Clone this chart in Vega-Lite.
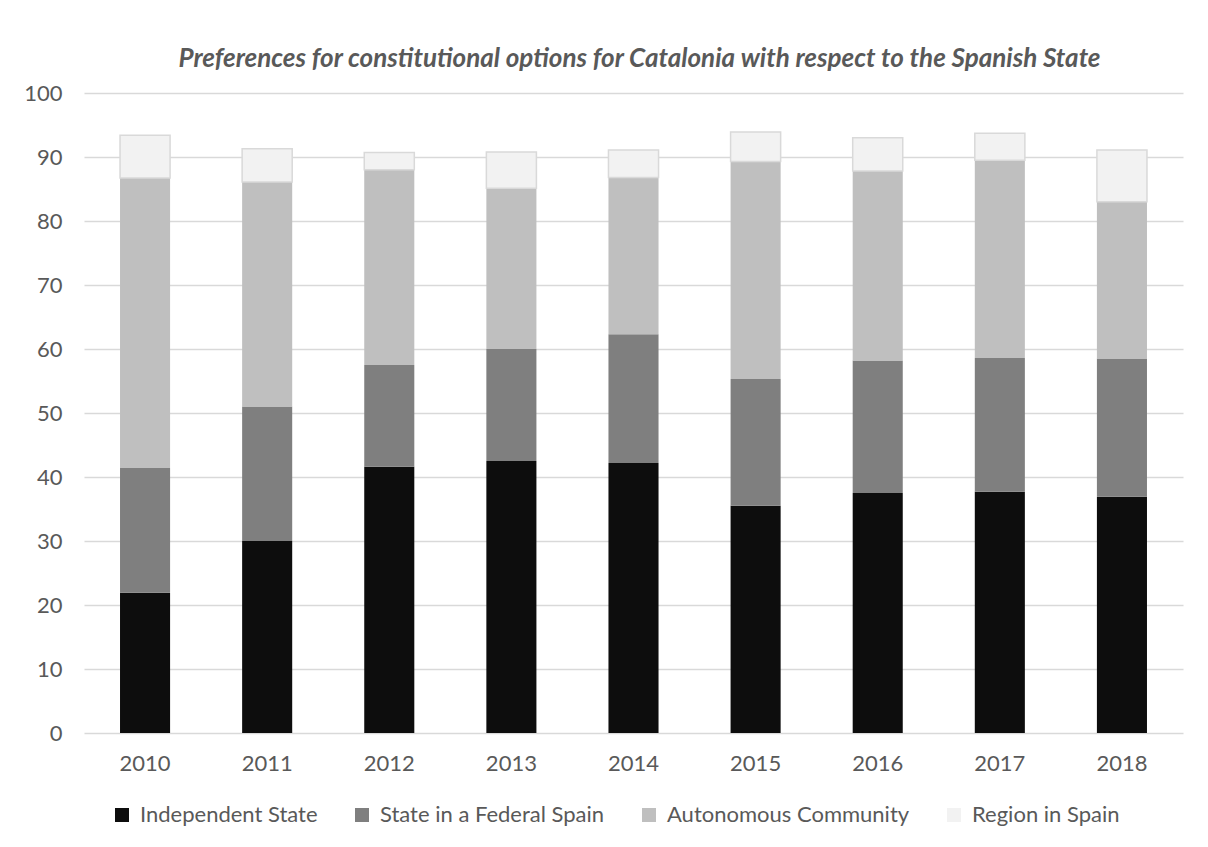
{
  "$schema": "https://vega.github.io/schema/vega-lite/v6.json",
  "width": 1099,
  "height": 640,
  "autosize": {"type": "none"},
  "padding": {"left": 84, "top": 93, "right": 25, "bottom": 114},
  "background": "white",
  "config": {
    "view": {"stroke": null},
    "font": "Lato",
    "axis": {"labelFont": "Lato", "labelFontSize": 22, "labelColor": "#595959", "ticks": false, "domain": false},
    "legend": {"labelFont": "Lato", "labelFontSize": 22, "labelColor": "#595959", "labelLimit": 0}
  },
  "title": {
    "text": "Preferences for constitutional options for Catalonia with respect to the Spanish State",
    "font": "Lato",
    "fontSize": 26,
    "fontWeight": "bold",
    "fontStyle": "italic",
    "color": "#595959",
    "anchor": "middle",
    "baseline": "alphabetic",
    "offset": 26,
    "dx": 6,
    "dy": 37
  },
  "data": {
    "values": [
      {"year": "2010", "option": "Independent State", "value": 21.9},
      {"year": "2010", "option": "State in a Federal Spain", "value": 19.5},
      {"year": "2010", "option": "Autonomous Community", "value": 45.3},
      {"year": "2010", "option": "Region in Spain", "value": 6.7},
      {"year": "2011", "option": "Independent State", "value": 30.0},
      {"year": "2011", "option": "State in a Federal Spain", "value": 21.0},
      {"year": "2011", "option": "Autonomous Community", "value": 35.1},
      {"year": "2011", "option": "Region in Spain", "value": 5.2},
      {"year": "2012", "option": "Independent State", "value": 41.6},
      {"year": "2012", "option": "State in a Federal Spain", "value": 15.9},
      {"year": "2012", "option": "Autonomous Community", "value": 30.5},
      {"year": "2012", "option": "Region in Spain", "value": 2.7},
      {"year": "2013", "option": "Independent State", "value": 42.5},
      {"year": "2013", "option": "State in a Federal Spain", "value": 17.5},
      {"year": "2013", "option": "Autonomous Community", "value": 25.1},
      {"year": "2013", "option": "Region in Spain", "value": 5.7},
      {"year": "2014", "option": "Independent State", "value": 42.2},
      {"year": "2014", "option": "State in a Federal Spain", "value": 20.1},
      {"year": "2014", "option": "Autonomous Community", "value": 24.5},
      {"year": "2014", "option": "Region in Spain", "value": 4.3},
      {"year": "2015", "option": "Independent State", "value": 35.5},
      {"year": "2015", "option": "State in a Federal Spain", "value": 19.8},
      {"year": "2015", "option": "Autonomous Community", "value": 34.0},
      {"year": "2015", "option": "Region in Spain", "value": 4.6},
      {"year": "2016", "option": "Independent State", "value": 37.5},
      {"year": "2016", "option": "State in a Federal Spain", "value": 20.7},
      {"year": "2016", "option": "Autonomous Community", "value": 29.6},
      {"year": "2016", "option": "Region in Spain", "value": 5.2},
      {"year": "2017", "option": "Independent State", "value": 37.7},
      {"year": "2017", "option": "State in a Federal Spain", "value": 20.9},
      {"year": "2017", "option": "Autonomous Community", "value": 30.9},
      {"year": "2017", "option": "Region in Spain", "value": 4.2},
      {"year": "2018", "option": "Independent State", "value": 36.9},
      {"year": "2018", "option": "State in a Federal Spain", "value": 21.6},
      {"year": "2018", "option": "Autonomous Community", "value": 24.5},
      {"year": "2018", "option": "Region in Spain", "value": 8.1}
    ]
  },
  "transform": [
    {"calculate": "indexof(['Independent State', 'State in a Federal Spain', 'Autonomous Community', 'Region in Spain'], datum.option)", "as": "stackRank"}
  ],
  "mark": {"type": "bar", "strokeWidth": 1.5},
  "encoding": {
    "x": {
      "field": "year",
      "type": "ordinal",
      "scale": {"paddingInner": 0.59, "paddingOuter": 0.295},
      "axis": {"title": null, "labelAngle": 0, "labelPadding": 20, "grid": false}
    },
    "y": {
      "field": "value",
      "type": "quantitative",
      "stack": "zero",
      "scale": {"domain": [0, 100], "nice": false},
      "axis": {
        "title": null,
        "values": [0, 10, 20, 30, 40, 50, 60, 70, 80, 90, 100],
        "grid": true,
        "gridColor": "#d9d9d9",
        "gridWidth": 1.3,
        "labelPadding": 22
      }
    },
    "order": {"field": "stackRank", "type": "quantitative", "sort": "ascending"},
    "color": {
      "field": "option",
      "type": "nominal",
      "sort": ["Independent State", "State in a Federal Spain", "Autonomous Community", "Region in Spain"],
      "scale": {
        "domain": ["Independent State", "State in a Federal Spain", "Autonomous Community", "Region in Spain"],
        "range": ["#0d0d0d", "#7f7f7f", "#bfbfbf", "#f2f2f2"]
      },
      "legend": {
        "title": null,
        "orient": "none",
        "direction": "horizontal",
        "legendX": 27,
        "legendY": 711,
        "symbolType": "square",
        "symbolSize": 196,
        "labelOffset": 7,
        "columnPadding": 33,
        "encode": {
          "symbols": {
            "update": {
              "stroke": [
                {"test": "datum.value === 'Region in Spain'", "value": "#d9d9d9"},
                {"value": "transparent"}
              ],
              "strokeWidth": {"value": 1.5}
            }
          }
        }
      }
    },
    "stroke": {
      "condition": {"test": "datum.option === 'Region in Spain'", "value": "#d9d9d9"},
      "value": null
    }
  }
}
